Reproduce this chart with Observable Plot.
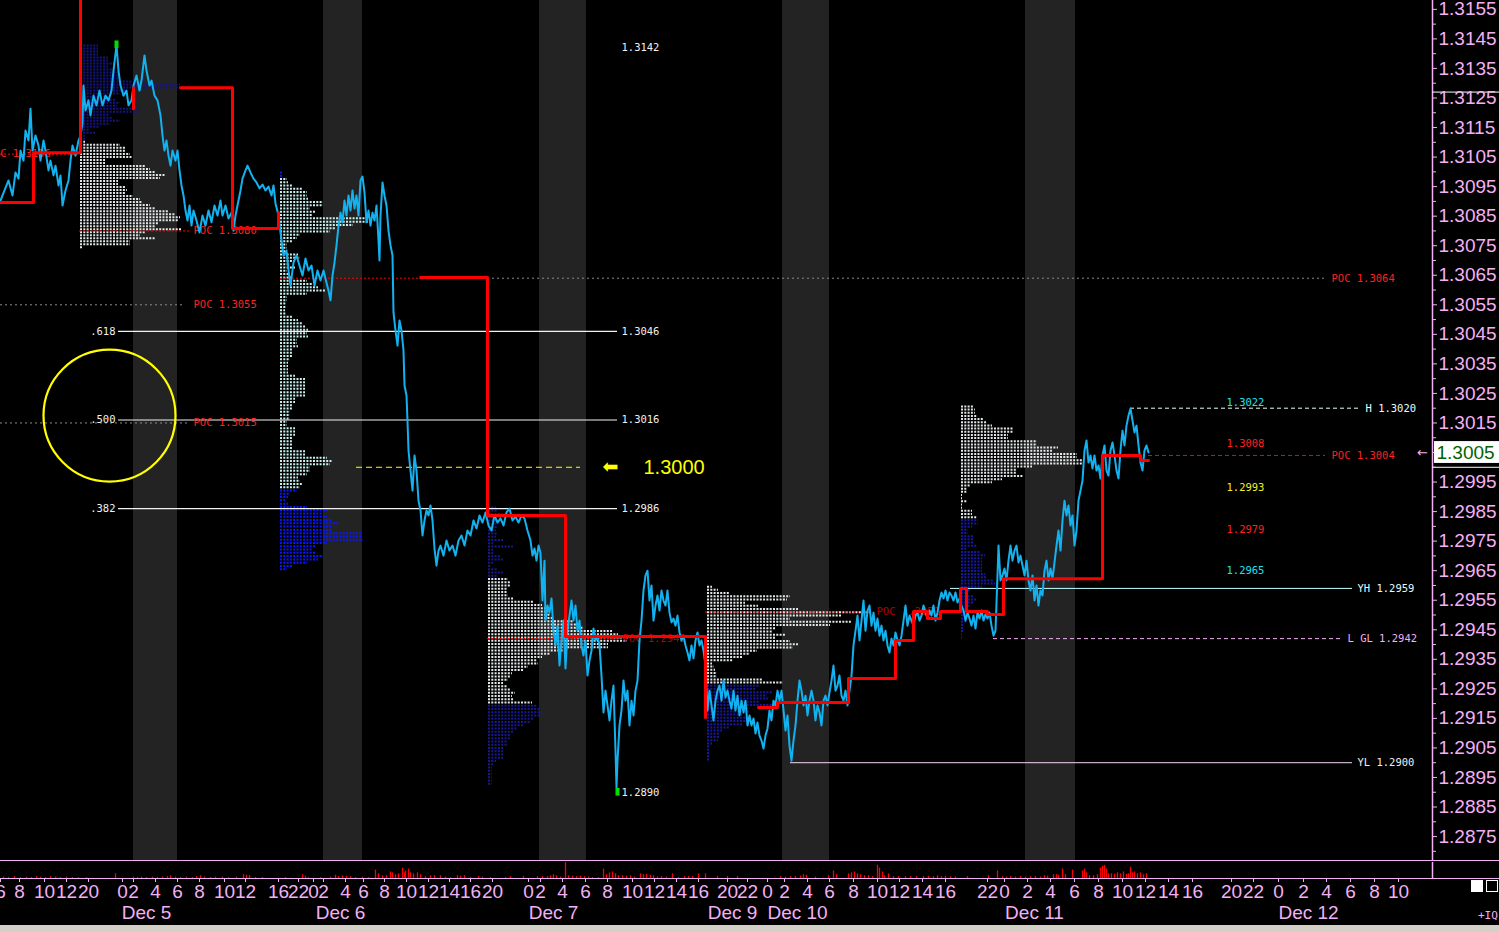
<!DOCTYPE html>
<html><head><meta charset="utf-8">
<script src="https://cdn.jsdelivr.net/npm/d3@7"></script>
<script src="https://cdn.jsdelivr.net/npm/@observablehq/plot@0.6"></script>
<style>
html,body{margin:0;padding:0;background:#000;}
body{width:1499px;height:932px;overflow:hidden;position:relative;}
#chart svg{display:block}
#strip{height:7px;background:#d4d0c8;}
.sq1{position:absolute;left:1471px;top:880px;width:12px;height:12px;background:#fff;}
.sq2{position:absolute;left:1486px;top:880px;width:10px;height:10px;border:1px solid #fff;}
.iq{position:absolute;left:1478px;top:909px;font:11px "DejaVu Sans Mono",monospace;color:#f4b0f4;}
</style></head><body>
<div id="chart"></div><div id="strip"></div>
<div class="sq1"></div><div class="sq2"></div><div class="iq">+IQ</div>
<script>
// ---------- DATA ----------
// x = bar number (one bar per pixel column of the original chart), prices in pips above the 1.3000 big figure
const BIG_FIGURE = 1.3000;
const P = p => BIG_FIGURE + p / 10000;

// session shading (Asian sessions), bar ranges
const sessionBands = [[133,177],[323,362],[539,586],[782,829],[1025,1075]];

// EUR/USD price path [bar, pips above 1.3000]
const priceSeries = [
[0,90.3],[4,93.7],[8,97.1],[12,92.0],[15,99.8],[18,97.7],[20,107.2],[23,103.8],[25,114.0],[28,110.6],[30,121.4],[32,107.2],[35,112.3],[38,108.9],[40,103.8],[43,110.6],[45,107.2],[48,100.5],[50,103.8],[53,98.8],[55,102.1],[58,95.4],[60,98.8],[62,88.6],[65,93.7],[68,97.1],[70,103.8],[72,108.9],[75,105.5],[78,110.6],[80,112.3],[82,116.4],[83,129.2],[85,120.8],[88,124.2],[90,119.1],[93,125.8],[96,122.5],[99,127.5],[102,122.5],[105,125.8],[108,124.2],[111,127.5],[113,134.3],[116,142.8],[118,134.3],[120,129.2],[123,125.8],[126,127.5],[128,122.5],[131,124.2],[133,129.2],[136,132.6],[139,127.5],[141,130.9],[144,139.4],[146,134.3],[149,129.2],[151,130.9],[154,125.8],[157,124.2],[160,119.1],[162,112.3],[164,107.2],[166,110.6],[168,105.5],[170,102.1],[172,107.2],[175,103.8],[177,107.2],[179,100.5],[181,95.4],[183,92.0],[185,86.9],[187,83.5],[189,88.6],[191,81.8],[193,86.9],[196,83.5],[199,79.5],[202,85.2],[205,81.8],[208,86.9],[211,82.9],[214,88.6],[217,85.2],[220,90.3],[222,85.2],[225,88.6],[228,84.2],[231,86.2],[233,80.1],[235,85.2],[237,88.6],[240,93.7],[242,97.7],[245,100.5],[247,102.1],[250,99.8],[253,97.7],[256,96.4],[259,94.4],[262,95.7],[265,93.7],[268,95.0],[271,92.0],[273,95.4],[275,89.3],
[278,85.2],[281,76.8],[283,71.7],[286,73.4],[288,66.6],[290,61.5],[293,69.3],[296,71.7],[299,68.3],[302,64.9],[305,70.7],[308,66.6],[311,68.3],[314,61.5],[317,66.6],[320,63.2],[323,66.6],[326,62.5],[328,59.8],[330,56.5],[332,64.9],[334,69.3],[336,75.1],[338,81.8],[340,86.2],[342,82.9],[344,90.3],[346,85.2],[348,92.0],[350,86.9],[352,93.7],[354,87.6],[356,92.0],[358,85.2],[360,97.1],[362,98.4],[364,93.0],[366,82.9],[368,86.9],[370,81.8],[372,86.2],[374,83.5],[376,88.6],[378,76.8],[379,70.0],[380,85.2],[382,96.4],[384,92.0],[386,88.6],[388,80.1],[390,75.1],[392,71.7],[393,52.4],[395,46.3],[397,41.2],[399,49.7],[401,46.3],[403,39.5],[404,27.7],[406,24.3],[407,15.8],[408,5.7],[410,-1.1],[412,-7.9],[414,4.0],[416,-1.1],[418,-11.3],[420,-14.6],[422,-23.1],[424,-18.0],[426,-14.6],[428,-16.3],[430,-12.9],[432,-18.0],[434,-27.5],[436,-33.3],[438,-28.2],[440,-26.5],[443,-29.9],[446,-24.8],[449,-28.2],[452,-26.5],[455,-29.9],[458,-24.8],[461,-23.1],[464,-26.5],[467,-21.4],[470,-23.1],[473,-18.0],[476,-20.7],[479,-16.3],[482,-18.7],[485,-15.3],[488,-19.7],[491,-21.4],[494,-16.3],[497,-18.7],[500,-17.3],[503,-19.7],[506,-15.3],[509,-14.0],[512,-18.0],[515,-16.7],[518,-18.7],[521,-16.3],[524,-17.3],[527,-21.4],
[530,-24.8],[532,-29.9],[534,-27.5],[536,-31.6],[538,-26.5],[540,-28.9],[542,-45.1],[544,-31.6],[545,-51.9],[547,-46.8],[549,-49.2],[551,-44.4],[553,-55.3],[555,-60.3],[557,-53.6],[559,-67.1],[561,-58.6],[563,-51.9],[565,-68.1],[567,-55.3],[569,-50.2],[571,-45.1],[573,-51.9],[575,-46.8],[577,-55.3],[579,-51.9],[581,-60.3],[583,-63.7],[585,-58.6],[587,-70.5],[589,-65.4],[591,-62.0],[593,-54.6],[595,-58.6],[597,-57.0],[599,-60.3],[601,-70.5],[603,-83.0],[605,-75.6],[607,-80.6],[609,-85.7],[611,-79.0],[613,-73.9],[615,-95.9],[616,-108.4],[617,-99.3],[619,-87.4],[621,-82.3],[623,-72.2],[625,-79.0],[627,-75.6],[629,-87.4],[631,-79.0],[633,-84.0],[635,-75.6],[637,-72.2],[639,-58.6],[641,-51.9],[643,-41.7],[645,-36.6],[647,-35.0],[649,-45.1],[651,-40.0],[653,-51.9],[655,-46.8],[657,-43.4],[659,-48.5],[661,-41.7],[663,-45.1],[665,-46.8],[667,-41.7],[669,-49.2],[671,-52.5],[673,-51.2],[675,-53.6],[677,-50.2],[679,-55.9],[681,-58.6],[683,-57.0],[685,-60.3],[687,-62.7],[689,-65.4],[691,-60.3],[693,-64.7],[695,-58.6],[697,-55.9],[699,-60.3],[701,-58.6],[703,-62.0],
[705,-67.1],[707,-82.3],[709,-75.6],[711,-80.6],[713,-85.7],[715,-79.0],[717,-75.6],[719,-73.9],[721,-79.0],[723,-72.2],[725,-77.9],[727,-75.6],[729,-79.0],[731,-81.7],[733,-75.6],[735,-82.3],[737,-77.3],[739,-84.0],[741,-79.0],[743,-83.0],[745,-79.0],[747,-87.4],[749,-84.0],[751,-87.4],[753,-85.0],[755,-90.1],[757,-86.4],[759,-90.8],[761,-92.5],[763,-95.2],[765,-90.8],[767,-88.4],[769,-82.3],[771,-85.7],[773,-79.0],[775,-80.6],[777,-75.6],[779,-79.0],[781,-75.6],[783,-82.3],[785,-89.1],[787,-84.0],[789,-94.2],[791,-99.3],[793,-92.5],[795,-87.4],[797,-79.0],[799,-72.2],[801,-75.6],[803,-80.6],[805,-77.3],[807,-84.0],[809,-79.0],[811,-75.6],[813,-79.0],[815,-85.7],[817,-80.6],[819,-83.0],[821,-87.4],[823,-79.0],[825,-77.3],[827,-80.6],[829,-76.2],[831,-72.2],[833,-67.1],[835,-75.6],[837,-73.9],[839,-70.5],[841,-77.3],[843,-79.0],[845,-75.6],[847,-80.6],[849,-75.6],[851,-70.5],[853,-60.3],[855,-55.3],[857,-50.2],[859,-58.6],[861,-51.9],[863,-45.1],[865,-55.3],[867,-48.5],[869,-46.8],[871,-53.6],[873,-49.2],[875,-55.3],[877,-51.2],[879,-57.0],[881,-53.6],[883,-58.6],[885,-55.3],[887,-60.3],[889,-62.7],[891,-58.0],[893,-60.3],[895,-55.9],[897,-58.6],[899,-60.3],[901,-57.0],[903,-51.9],[905,-46.8],[907,-53.6],[909,-50.2],[911,-51.9],[913,-53.6],[915,-50.2],[917,-49.2],[919,-51.9],[921,-50.2],[923,-46.8],[925,-49.2],[927,-51.2],[929,-48.5],[931,-50.2],[933,-46.8],[935,-51.9],[937,-49.2],[939,-45.1],[941,-42.4],[943,-44.4],[945,-41.7],[947,-45.1],[949,-42.4],[951,-43.4],[953,-45.1],[955,-42.4],[957,-45.8],[959,-44.4],[961,-46.8],[963,-48.5],[965,-51.9],[967,-49.2],[969,-51.2],[971,-53.6],[973,-50.2],[975,-54.6],[977,-49.2],[979,-51.2],[981,-48.5],[983,-51.9],[985,-49.8],[987,-51.2],[989,-49.2],[991,-53.6],[993,-57.0],[995,-55.3],[997,-36.6],[998,-26.5],[1000,-38.3],
[1002,-36.6],[1004,-34.3],[1006,-38.3],[1008,-31.6],[1010,-26.5],[1012,-31.6],[1014,-28.2],[1016,-26.5],[1018,-32.2],[1020,-29.9],[1022,-33.3],[1024,-36.6],[1026,-31.6],[1028,-38.3],[1030,-41.7],[1032,-36.6],[1034,-45.1],[1036,-40.0],[1038,-46.8],[1040,-41.7],[1042,-43.4],[1044,-35.0],[1046,-31.6],[1048,-38.3],[1050,-34.3],[1052,-37.7],[1054,-32.2],[1056,-26.5],[1058,-21.4],[1060,-28.2],[1062,-18.0],[1064,-11.3],[1066,-16.3],[1068,-12.9],[1070,-19.7],[1072,-16.3],[1074,-26.5],[1076,-21.4],[1078,-11.3],[1080,-7.9],[1082,-4.5],[1084,5.7],[1086,9.1],[1088,1.6],[1090,4.0],[1092,-0.4],[1094,4.0],[1096,-1.1],[1098,0.6],[1100,-3.8],[1102,4.0],[1104,7.4],[1106,-1.1],[1108,-2.8],[1110,5.7],[1112,8.4],[1114,4.0],[1116,-1.1],[1118,-3.8],[1120,5.7],[1122,12.4],[1124,7.4],[1126,14.1],[1128,17.5],[1130,19.9],[1132,15.8],[1134,11.8],[1136,14.1],[1138,7.4],[1140,1.6],[1142,-1.1],[1144,5.7],[1146,7.4],[1148,5.0]
];

// developing POC steps per session [bar, pips]
const pocDec4 = [[0,89.6],[33,106.5],[80,158.0]];
const pocDec5a = [[133,121.4],[133,128.5]];
const pocDec5 = [[180,128.5],[232,80.8],[278,86.2]];
const pocDec6 = [[420,64.2],[487,-16.3],[565,-57.3],[705,-84.7]];
const pocDec10 = [[758,-81.3],[777,-79.6],[848,-71.5],[895,-58.6],[913,-48.8],[927,-51.2],[940,-48.8],[960,-41.0],[966,-48.8],[987,-49.8],[1003,-37.7],[1102,4.0],[1140,2.3],[1148,2.3]];

// market profiles: start bar, top level (pips), row step (pips), widths (bars) per row
const profiles = [
 {start:80, top:142.8, step:1.02, dark:"#141488", light:"#e2e8e8",
  upper:[18,18,18,18,28,28,35,28,35,38,40,40,55,100,103,45,40,30,35,40,37,60,58,30,33,40,30,20,10,15,5,5],
  main:[5,40,45,45,50,52,25,25,66,70,75,85,80,38,38,45,47,45,53,60,62,70,75,88,95,100,98,78,75,102,65,60,75,50,50,3],
  lower:[]},
 {start:280, top:99.8, step:1.11, dark:"#0a16ff", light:"#c8f2ee",
  upper:[3,3],
  main:[7,8,12,23,27,27,28,43,43,30,35,33,90,90,73,55,50,20,17,12,7,7,7,18,20,15,10,15,7,8,13,27,32,38,45,27,7,7,6,6,5,6,13,18,23,25,28,27,28,17,17,18,13,12,12,10,8,8,8,8,15,25,25,25,25,25,25,15,15,12,12,10,10,10,7,7,15,15,15,13,13,13,13,25,25,47,52,50,30,30,27,18,20,22,20],
  lower:[17,10,8,5,8,27,48,43,47,52,60,52,52,82,82,83,47,35,32,35,43,38,27,13,7]},
 {start:488, top:-13.6, step:1.10, dark:"#181890", light:"#e2e8e8",
  upper:[8,10,15,10,10,10,10,8,10,8,15,5,25,5,5,12,15,5,3,10,15,10],
  main:[20,22,22,19,19,20,25,45,54,59,60,62,65,85,92,95,124,130,140,139,120,120,75,62,54,49,50,40,35,24,22,20,15,19,22,27,24,25,44],
  lower:[49,54,54,54,45,42,35,29,25,22,22,20,20,15,15,15,15,8,5,4,4,4,4,4,4]},
 {start:707, top:-40.4, step:1.083, dark:"#1818a0", light:"#e2e8e8",
  upper:[],
  main:[5,11,23,83,80,38,51,91,165,135,83,145,123,68,65,78,68,83,91,86,50,43,36,26,5,7,8,10,10,56,76],
  lower:[53,48,65,60,61,53,70,41,43,36,40,40,35,23,15,13,13,11,5,3,3,2,2,2]},
 {start:961, top:20.6, step:1.071, dark:"#1818a4", light:"#e2e8e8",
  upper:[],
  main:[12,14,14,16,22,26,31,52,52,47,47,76,76,97,91,116,116,121,121,71,56,55,62,41,31,9,6,6,1,1,6,1,1,11,11,16],
  lower:[17,17,11,7,7,12,12,12,16,6,19,24,21,21,21,21,21,24,26,32,34,21,9,6,12,16,12,9,7,9,6,6,6,3,3,3,1,1]}
];

// reference levels: price, from bar, to bar, line colour, dash, label, label bar, label colour
const refLines = [
 [1.3106, 0, 80, "#ff0000", "2,2", "POC 1.3106", -13, "#ff2020"],
 [1.3080, 79, 190, "#ff0000", "2,2", "POC 1.3080", 193, "#ff2020"],
 [1.3055, 0, 185, "#8a8a8a", "2,3", "POC 1.3055", 193, "#ff2020"],
 [1.3015, 0, 190, "#8a8a8a", "2,3", "POC 1.3015", 193, "#ff2020"],
 [1.3064, 280, 420, "#ff0000", "2,2", null, 0, ""],
 [1.3064, 487, 1325, "#8a8a8a", "2,3", "POC 1.3064", 1331, "#ff2020"],
 [1.2942, 487, 620, "#ff0000", "2,2", "POC 1.2942", 622, "#b00000"],
 [1.2951, 705, 872, "#ff0000", "2,2", "POC 1.2951", 876, "#b00000"],
 [1.3020, 1130, 1360, "#e8ffff", "4,3", "H 1.3020", 1365, "#e8ffff"],
 [1.3004, 1148, 1325, "#ff0000", "4,3", "POC 1.3004", 1331, "#ff2020"],
 [1.2959, 950, 1352, "#c0ffff", null, "YH 1.2959", 1357, "#e0ffff"],
 [1.2942, 993, 1343, "#f4b0f4", "4,3", "L GL 1.2942", 1347, "#f4b0f4"],
 [1.2900, 790, 1352, "#f4d8f4", null, "YL 1.2900", 1357, "#f0f0f0"],
 [1.3000, 356, 580, "#ffff00", "6,4", null, 0, ""]
];

// Fibonacci retracement
const fibLevels = [{ratio:".618", price:1.3046},{ratio:".500", price:1.3016},{ratio:".382", price:1.2986}];
const fibSpan = [118, 617];

// free price labels [bar, price, text, colour]
const freeLabels = [
 [621, 1.3142, "1.3142", "#f0f0f0"],
 [621, 1.2890, "1.2890", "#f0f0f0"],
 [1226, 1.3022, "1.3022", "#20e0f0"],
 [1226, 1.3008, "1.3008", "#ff2020"],
 [1226, 1.2993, "1.2993", "#f0f020"],
 [1226, 1.2979, "1.2979", "#ff2020"],
 [1226, 1.2965, "1.2965", "#20e0f0"]
];
const extremeMarks = [[116, 1.3143], [617, 1.2890]];
const circleMark = [[109, 1.30175]];
const bigFigureNote = {arrowBar: 602, textBar: 643, price: 1.3000, text: "1.3000"};
const axisMarkers = [1.3127, 1.3000];

// volume [bar, lots]
const volume = [
[3,15],[8,10],[14,20],[20,10],[26,15],[31,10],[36,20],[40,15],[45,10],[50,20],[55,15],[60,10],[66,15],[72,10],[78,10],[86,10],[115,50],
[133,15],[137,10],[141,15],[146,10],[152,15],[157,10],[162,15],[167,20],[170,30],[175,15],[180,10],[186,15],[192,10],[196,20],[200,30],[204,15],[210,10],[215,15],[222,15],[228,10],[236,15],[243,40],[246,35],[249,30],[255,10],[262,10],
[285,10],[302,40],[305,25],[308,10],[320,10],[330,15],[335,35],[338,20],[342,30],[346,25],[350,20],[355,10],[362,15],[368,10],
[375,90],[378,50],[382,30],[386,30],[390,70],[392,60],[395,40],[398,50],[402,110],[404,60],[405,80],[408,100],[410,60],[413,50],[417,60],[420,40],[425,20],[430,30],[434,30],[440,30],[445,15],[450,10],[457,30],[460,25],[464,30],[470,10],[478,20],[482,15],[490,10],
[505,10],[510,20],[523,20],[537,20],[542,20],[547,20],[550,30],[553,40],[556,30],[560,15],[565,170],[568,30],[572,25],[576,20],[580,25],[584,20],[588,15],[592,10],[598,10],[603,100],[606,40],[609,60],[612,70],[615,50],[618,30],[622,30],[626,25],[630,30],[634,15],[640,50],[643,40],[646,45],[650,35],[653,30],[657,15],[661,20],[666,15],[672,50],[678,10],[684,20],[688,20],[692,20],[698,50],[705,50],[717,20],[727,20],[737,20],
[780,20],[785,15],[790,20],[795,20],[800,25],[803,40],[806,35],[815,15],[828,30],[833,80],[836,40],[848,50],[851,60],[854,70],[857,50],[860,40],[864,30],[868,30],[872,20],[877,140],[879,110],[882,70],[884,30],[888,50],[893,20],[898,20],[905,20],[910,20],[916,20],[923,20],[928,25],[933,20],[937,30],[941,20],[945,25],[950,20],[955,15],[967,20],[988,30],[997,80],
[1002,20],[1006,15],[1010,20],[1015,15],[1020,20],[1025,15],[1030,20],[1035,20],[1040,15],[1044,30],[1047,25],[1053,40],[1056,40],[1058,35],[1062,100],[1065,40],[1072,90],[1082,80],[1084,100],[1086,60],[1089,30],[1093,30],[1097,40],[1100,110],[1102,130],[1104,140],[1106,100],[1108,50],[1111,50],[1114,45],[1117,60],[1120,50],[1123,70],[1126,45],[1128,50],[1130,120],[1132,60],[1134,70],[1137,50],[1140,60],[1143,40],[1146,50]
];

// time axis [bar, hour label]
const timeTicks = [[0,"6"],[19,"8"],[44,"10"],[66,"12"],[88,"20"],[122,"0"],[133,"2"],[155,"4"],[177,"6"],[199,"8"],[224,"10"],[245,"12"],[278,"16"],[298,"22"],[313,"0"],[323,"2"],[345,"4"],[363,"6"],[384,"8"],[406,"10"],[428,"12"],[449,"14"],[470,"16"],[492,"20"],[528,"0"],[540,"2"],[562,"4"],[585,"6"],[607,"8"],[632,"10"],[654,"12"],[676,"14"],[698,"16"],[727,"20"],[747,"22"],[767,"0"],[784,"2"],[807,"4"],[829,"6"],[853,"8"],[877,"10"],[899,"12"],[922,"14"],[945,"16"],[987,"22"],[1004,"0"],[1027,"2"],[1050,"4"],[1074,"6"],[1098,"8"],[1122,"10"],[1145,"12"],[1168,"14"],[1192,"16"],[1231,"20"],[1253,"22"],[1278,"0"],[1303,"2"],[1326,"4"],[1350,"6"],[1374,"8"],[1398,"10"]];
const dateLabels = [[146,"Dec 5"],[340,"Dec 6"],[553,"Dec 7"],[732,"Dec 9"],[797,"Dec 10"],[1034,"Dec 11"],[1308,"Dec 12"]];

// price axis
const priceTicks = d3.range(12875, 13156, 10).map(v => v / 10000);
const priceMinor = d3.range(12870, 13160, 10).map(v => v / 10000);

// ---------- CHART ----------
const W = 1499, XMAX = 1432;
const pink = "#f4b0f4";
const MONO = "DejaVu Sans Mono, monospace";
const yLo = P(-133.1), yHi = P(158.0);
const lastPrice = P(priceSeries[priceSeries.length - 1][1]);

function profileMarks(pf) {
  const rows = [];
  let i = 0;
  for (const [part, arr] of [["upper", pf.upper], ["main", pf.main], ["lower", pf.lower]])
    for (const w of arr) { rows.push({p: pf.top - i * pf.step, w, part}); i++; }
  return ["upper", "main", "lower"].map(part => Plot.ruleY(rows.filter(r => r.part === part), {
    y: r => P(r.p), x1: () => pf.start, x2: r => pf.start + r.w,
    stroke: part === "main" ? pf.light : pf.dark, strokeWidth: 2, strokeDasharray: "2,1.3"
  }));
}
const pocSteps = [pocDec4, pocDec5a, pocDec5, pocDec6, pocDec10].flatMap((s, k) => s.map(d => ({x: d[0], p: d[1], seg: k})));

const main = Plot.plot({
  width: W, height: 862,
  marginLeft: 0, marginRight: W - XMAX, marginTop: 0, marginBottom: 2,
  x: {domain: [0, XMAX], axis: null},
  y: {domain: [yLo, yHi], axis: null},
  style: {background: "#000", color: pink, fontFamily: "Liberation Sans, Arial, sans-serif"},
  marks: [
    Plot.rect(sessionBands, {x1: d => d[0], x2: d => d[1], fill: "#232323"}),
    ...profiles.flatMap(profileMarks),
    ...refLines.map(r => Plot.ruleY([r], {y: d => d[0], x1: d => d[1], x2: d => d[2], stroke: r[3], strokeWidth: 1, strokeDasharray: r[4] || null})),
    Plot.ruleY(fibLevels, {y: "price", x1: () => fibSpan[0], x2: () => fibSpan[1], stroke: "#f2f2f2", strokeWidth: 1.2}),
    Plot.text(fibLevels, {x: () => fibSpan[0] - 3, y: "price", text: "ratio", fill: "#f0f0f0", textAnchor: "end", fontFamily: MONO, fontSize: 10.5}),
    Plot.text(fibLevels, {x: () => fibSpan[1] + 4, y: "price", text: d => d.price.toFixed(4), fill: "#f0f0f0", textAnchor: "start", fontFamily: MONO, fontSize: 10.5}),
    ...refLines.filter(r => r[5]).map(r => Plot.text([r], {x: d => d[6], y: d => d[0], text: d => d[5], fill: r[7], textAnchor: "start", fontFamily: MONO, fontSize: 10.5})),
    ...freeLabels.map(l => Plot.text([l], {x: d => d[0], y: d => d[1], text: d => d[2], fill: l[3], textAnchor: "start", fontFamily: MONO, fontSize: 10.5})),
    Plot.text([bigFigureNote], {x: "arrowBar", y: "price", text: () => "\u2B05", fill: "#ffff00", textAnchor: "start", fontFamily: "DejaVu Sans", fontSize: 19}),
    Plot.text([bigFigureNote], {x: "textBar", y: "price", text: "text", fill: "#ffff00", textAnchor: "start", fontSize: 20}),
    Plot.line(priceSeries, {x: d => d[0], y: d => P(d[1]), stroke: "#12b2f0", strokeWidth: 2}),
    Plot.line(pocSteps, {x: "x", y: d => P(d.p), z: "seg", curve: "step-after", stroke: "#ff0000", strokeWidth: 3}),
    Plot.dot(circleMark, {x: d => d[0], y: d => d[1], r: 66, stroke: "#ffff00", strokeWidth: 2.2, fill: "none"}),
    Plot.ruleX(extremeMarks, {x: d => d[0], y1: d => d[1] - 0.00013, y2: d => d[1] + 0.00013, stroke: "#00e000", strokeWidth: 4}),
    // price axis
    Plot.ruleX([XMAX], {stroke: pink, strokeWidth: 1.5}),
    Plot.ruleY([yLo], {x1: () => 0, x2: () => W, stroke: pink}),
    Plot.ruleY(axisMarkers, {x1: () => XMAX, x2: () => W, stroke: "#ffffff"}),
    Plot.axisY({anchor: "right", ticks: priceMinor, tickSize: 3, tickFormat: () => "", color: pink, label: null}),
    Plot.axisY({anchor: "right", ticks: priceTicks, tickSize: 4, tickPadding: 2, tickFormat: d => d.toFixed(4), fontSize: 19, color: pink, label: null}),
    Plot.rect([lastPrice], {x1: () => XMAX + 2, x2: () => W, y1: d => d - 0.00037, y2: d => d + 0.00037, fill: "#ffffff"}),
    Plot.text([lastPrice], {x: () => XMAX + 4, y: d => d, text: d => d.toFixed(4), fill: "#006400", textAnchor: "start", fontSize: 19}),
    Plot.text([lastPrice], {x: () => XMAX - 10, y: d => d, text: () => "\u2190", fill: pink, fontSize: 13, fontFamily: "DejaVu Sans"})
  ]
});

const tickText = new Map(timeTicks.map(d => [d[0], d[1]]));
const bottom = Plot.plot({
  width: W, height: 63,
  marginLeft: 0, marginRight: W - XMAX, marginTop: 0, marginBottom: 47,
  x: {domain: [0, XMAX], axis: null},
  y: {domain: [0, 170], axis: null},
  style: {background: "#000", color: pink, fontFamily: "Liberation Sans, Arial, sans-serif"},
  marks: [
    Plot.ruleX(volume, {x: d => d[0], y1: () => 0, y2: d => d[1], stroke: "#ff0000", strokeWidth: 1.3}),
    Plot.ruleY([0], {x1: () => 0, x2: () => W, stroke: pink}),
    Plot.ruleX([XMAX], {y1: () => 0, y2: () => 170, stroke: pink, strokeWidth: 1.5}),
    Plot.axisX({anchor: "bottom", ticks: timeTicks.map(d => d[0]), tickFormat: d => tickText.get(d), tickSize: 4, tickPadding: 2, fontSize: 19, color: pink, label: null}),
    Plot.text(dateLabels, {x: d => d[0], text: d => d[1], frameAnchor: "bottom", dy: 40, lineAnchor: "bottom", fontSize: 19, fill: pink})
  ]
});

const host = document.getElementById("chart");
host.appendChild(main);
host.appendChild(bottom);
</script>
</body></html>
